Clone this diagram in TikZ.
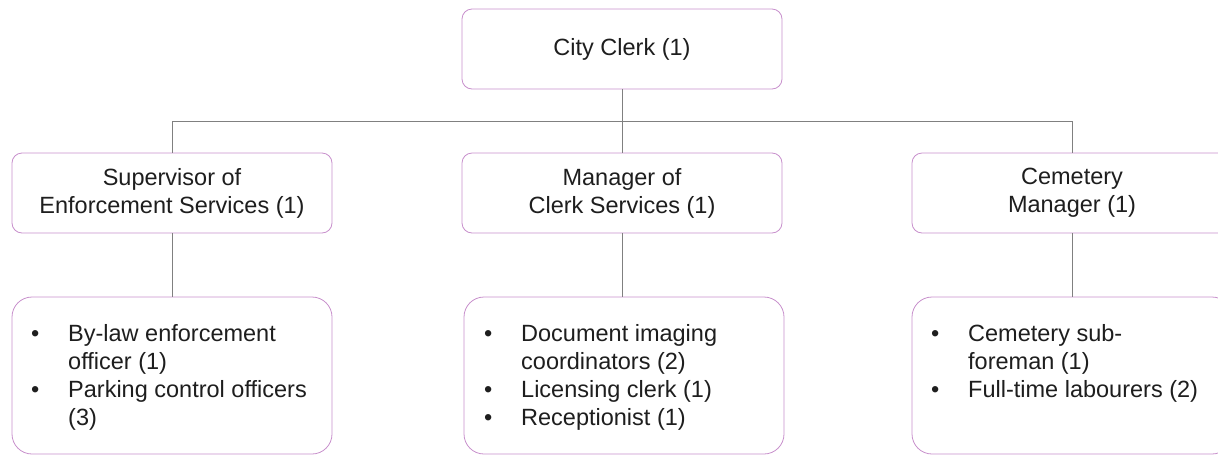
\documentclass[tikz,border=0pt]{standalone}
\usepackage{fontspec}
\setmainfont{Liberation Sans}
\definecolor{boxline}{RGB}{200,144,204}
\definecolor{linkgray}{RGB}{128,128,128}
\definecolor{ink}{RGB}{30,30,30}
\newcommand{\bulletitem}{\makebox[37pt][l]{\textbullet}}
\newcommand{\hangitem}{\hspace*{37pt}}
\tikzset{
  unitbox/.style={draw=boxline, line width=0.8pt, rounded corners=10pt, fill=white,
    minimum width=320pt, minimum height=80pt, inner sep=0pt,
    align=center, text=ink, font=\fontsize{23.5}{28}\selectfont},
  staffbox/.style={draw=boxline, line width=0.8pt, rounded corners=20pt, fill=white,
    minimum width=320pt, minimum height=157pt, inner sep=0pt},
  stafftext/.style={anchor=north west, inner sep=0pt, align=left, text=ink,
    font=\fontsize{23.5}{27.8}\selectfont},
  link/.style={draw=linkgray, line width=0.8pt}
}
\begin{document}
\begin{tikzpicture}[x=1pt, y=-1pt]
  \useasboundingbox (0,0) rectangle (1218,456);
  \clip (0,0) rectangle (1218,456);

  % head of the department
  \node[unitbox] (clerk) at (622,49) {City Clerk (1)};

  % second tier
  \node[unitbox] (sup) at (172,193) {Supervisor of\\Enforcement Services (1)};
  \node[unitbox] (mgr) at (622,193) {Manager of\\Clerk Services (1)};
  \node[unitbox] (cem) at (1072,193) {Cemetery\\Manager (1)};

  % staff boxes
  \node[staffbox] (supl) at (172,375.5) {};
  \node[staffbox] (mgrl) at (624,375.5) {};
  \node[staffbox] (ceml) at (1072,375.5) {};

  \node[stafftext] (supt) at (31,324.5) {\bulletitem By-law enforcement\\
    \hangitem officer (1)\\
    \bulletitem Parking control officers\\
    \hangitem (3)};
  \node[stafftext] (mgrt) at (484,324.5) {\bulletitem Document imaging\\
    \hangitem coordinators (2)\\
    \bulletitem Licensing clerk (1)\\
    \bulletitem Receptionist (1)};
  \node[stafftext] (cemt) at (931,324.5) {\bulletitem Cemetery sub-\\
    \hangitem foreman (1)\\
    \bulletitem Full-time labourers (2)};

  % connectors
  \draw[link] (clerk.south) -- ++(0,32) coordinate (bus);
  \draw[link] (sup.north) |- (bus) -| (cem.north);
  \draw[link] (mgr.north) -- (bus);
  \draw[link] (sup.south) -- (supl.north);
  \draw[link] (mgr.south) -- (mgr.south |- mgrl.north);
  \draw[link] (cem.south) -- (ceml.north);
\end{tikzpicture}
\end{document}
